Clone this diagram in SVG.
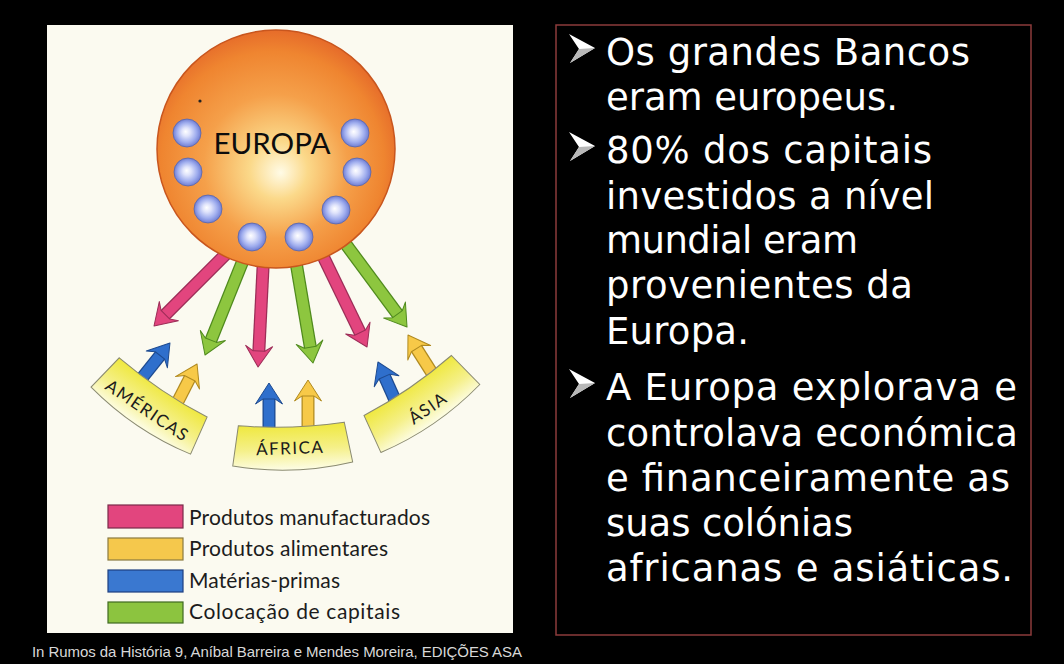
<svg xmlns="http://www.w3.org/2000/svg" width="1064" height="664" viewBox="0 0 1064 664">
<style>
.lbl{font-family:Lato,"Open Sans","Liberation Sans",sans-serif;fill:#1c1c1c}
.ban{font-size:17px;letter-spacing:1.5px;text-anchor:middle}
.leg{font-size:21px}
.sw{stroke-width:1.2}
.o{stroke-width:13;fill:none}
.f{stroke-width:10.5;fill:none}
.pk .o{stroke:#9c2d57}.pk .f{stroke:#e2457e}
.gr .o{stroke:#4f8a1d}.gr .f{stroke:#8dc63f}
.bl .o{stroke:#1d4a90}.bl .f{stroke:#2f6fcc}
.ye .o{stroke:#b08a20}.ye .f{stroke:#f7c948}
.rt{font-family:"DejaVu Sans",sans-serif;font-size:37px;fill:#ffffff}
.cap{font-family:"Liberation Sans",Arial,sans-serif;font-size:15px;fill:#d8d8d8}
.ball{fill:url(#gBall);stroke:#5a66a8;stroke-width:0.8}
.banner{fill:url(#gBan);stroke:#8a8a70;stroke-width:1}
</style>
<defs>
<radialGradient id="gSph" cx="0.48" cy="0.55" r="0.55" fx="0.52" fy="0.6">
<stop offset="0" stop-color="#fffbe6"/>
<stop offset="0.22" stop-color="#fbd98a"/>
<stop offset="0.55" stop-color="#f5a04a"/>
<stop offset="0.85" stop-color="#ef8530"/>
<stop offset="1" stop-color="#e66c2a"/>
</radialGradient>
<radialGradient id="gBall" cx="0.5" cy="0.5" r="0.5" fx="0.45" fy="0.45">
<stop offset="0" stop-color="#ffffff"/>
<stop offset="0.3" stop-color="#dfe3fb"/>
<stop offset="0.7" stop-color="#9fadee"/>
<stop offset="1" stop-color="#6f7dd2"/>
</radialGradient>
<linearGradient id="gBan" x1="0" y1="0" x2="0" y2="1">
<stop offset="0" stop-color="#efe83e"/>
<stop offset="0.55" stop-color="#f5f08a"/>
<stop offset="1" stop-color="#fdfde6"/>
</linearGradient>
<marker id="hPk" markerUnits="userSpaceOnUse" viewBox="0 -15 24 30" markerWidth="24" markerHeight="30" refX="6" refY="0" orient="auto" overflow="visible">
<path d="M5,-6 L0,-13.5 L21,0 L0,13.5 L5,6 Z" fill="#e2457e" stroke="#9c2d57" stroke-width="1" stroke-linejoin="round"/>
</marker>
<marker id="hGr" markerUnits="userSpaceOnUse" viewBox="0 -15 24 30" markerWidth="24" markerHeight="30" refX="6" refY="0" orient="auto" overflow="visible">
<path d="M5,-6 L0,-13.5 L21,0 L0,13.5 L5,6 Z" fill="#8dc63f" stroke="#4f8a1d" stroke-width="1" stroke-linejoin="round"/>
</marker>
<marker id="hBl" markerUnits="userSpaceOnUse" viewBox="0 -15 24 30" markerWidth="24" markerHeight="30" refX="6" refY="0" orient="auto" overflow="visible">
<path d="M5,-6 L0,-13.5 L21,0 L0,13.5 L5,6 Z" fill="#2f6fcc" stroke="#1d4a90" stroke-width="1" stroke-linejoin="round"/>
</marker>
<marker id="hYe" markerUnits="userSpaceOnUse" viewBox="0 -15 24 30" markerWidth="24" markerHeight="30" refX="6" refY="0" orient="auto" overflow="visible">
<path d="M5,-6 L0,-13.5 L21,0 L0,13.5 L5,6 Z" fill="#f7c948" stroke="#b08a20" stroke-width="1" stroke-linejoin="round"/>
</marker>
<path id="banShape" d="M-53,-20 Q0,-14 53,-20 L60,20 Q0,32 -60,20 Z"/>
<g id="bul">
<path d="M0,-31 L26,-17 L1,-2 L10,-16 Z" fill="#ffffff"/>
<path d="M10,-16 L26,-17 L1,-2 Z" fill="#b8b8b8"/>
</g>
</defs>

<rect x="0" y="0" width="1064" height="664" fill="#000000"/>
<rect id="panel" x="47" y="25" width="466" height="608" fill="#fbfaf0"/>

<g id="connectors">
<g class="pk"><line class="o" x1="232" y1="248" x2="164.6" y2="315.4"/><line class="f" x1="232" y1="248" x2="164.6" y2="315.4" marker-end="url(#hPk)"/></g>
<g class="gr"><line class="o" x1="244" y1="258" x2="210.6" y2="341.1"/><line class="f" x1="244" y1="258" x2="210.6" y2="341.1" marker-end="url(#hGr)"/></g>
<g class="pk"><line class="o" x1="263.5" y1="258" x2="258.8" y2="352"/><line class="f" x1="263.5" y1="258" x2="258.8" y2="352" marker-end="url(#hPk)"/></g>
<g class="gr"><line class="o" x1="295.3" y1="258" x2="310.5" y2="348.2"/><line class="f" x1="295.3" y1="258" x2="310.5" y2="348.2" marker-end="url(#hGr)"/></g>
<g class="pk"><line class="o" x1="321" y1="252" x2="360.5" y2="333.5"/><line class="f" x1="321" y1="252" x2="360.5" y2="333.5" marker-end="url(#hPk)"/></g>
<g class="gr"><line class="o" x1="342" y1="239" x2="398.1" y2="314.9"/><line class="f" x1="342" y1="239" x2="398.1" y2="314.9" marker-end="url(#hGr)"/></g>
<g class="bl"><line class="o" x1="138" y1="383" x2="160.6" y2="354.7"/><line class="f" x1="138" y1="383" x2="160.6" y2="354.7" marker-end="url(#hBl)"/></g>
<g class="ye"><line class="o" x1="174" y1="409" x2="190.2" y2="377.4"/><line class="f" x1="174" y1="409" x2="190.2" y2="377.4" marker-end="url(#hYe)"/></g>
<g class="bl"><line class="o" x1="269" y1="430" x2="269" y2="398"/><line class="f" x1="269" y1="430" x2="269" y2="398" marker-end="url(#hBl)"/></g>
<g class="ye"><line class="o" x1="308" y1="430" x2="308" y2="395"/><line class="f" x1="308" y1="430" x2="308" y2="395" marker-end="url(#hYe)"/></g>
<g class="bl"><line class="o" x1="395" y1="400" x2="384.1" y2="375.7"/><line class="f" x1="395" y1="400" x2="384.1" y2="375.7" marker-end="url(#hBl)"/></g>
<g class="ye"><line class="o" x1="432" y1="373" x2="416" y2="347.7"/><line class="f" x1="432" y1="373" x2="416" y2="347.7" marker-end="url(#hYe)"/></g>
</g>

<g id="node-europa">
<circle cx="276" cy="149" r="119" fill="url(#gSph)" stroke="#c8561e" stroke-width="1.5"/>
<circle cx="200" cy="101" r="1.6" fill="#222"/>
<circle class="ball" cx="187" cy="133" r="14"/>
<circle class="ball" cx="188" cy="172" r="14"/>
<circle class="ball" cx="208" cy="209" r="14"/>
<circle class="ball" cx="252" cy="237" r="14"/>
<circle class="ball" cx="299" cy="237" r="14"/>
<circle class="ball" cx="336" cy="210" r="14"/>
<circle class="ball" cx="357" cy="172" r="14"/>
<circle class="ball" cx="355" cy="133" r="14"/>
<text class="lbl" x="272" y="154" font-size="29.5" text-anchor="middle" style="fill:#0d0d0d">EUROPA</text>
</g>

<g id="node-americas" transform="translate(152,404) rotate(34)">
<use href="#banShape" class="banner"/>
<text class="lbl ban" x="0" y="14">AMÉRICAS</text>
</g>
<g id="node-africa" transform="translate(292,444) rotate(-2)">
<use href="#banShape" class="banner"/>
<text class="lbl ban" x="-2" y="10">ÁFRICA</text>
</g>
<g id="node-asia" transform="translate(419,402) rotate(-34.5)">
<use href="#banShape" class="banner"/>
<text class="lbl ban" x="4" y="16">ÁSIA</text>
</g>

<g id="legend">
<rect class="sw" x="108" y="505" width="75" height="23" fill="#e2457e" stroke="#7a2a4a"/>
<rect class="sw" x="108" y="538" width="75" height="22" fill="#f5c84c" stroke="#8a7a40"/>
<rect class="sw" x="108" y="570" width="75" height="22" fill="#3a78d0" stroke="#1d3f80"/>
<rect class="sw" x="108" y="602" width="75" height="21" fill="#8cc43f" stroke="#3f6a20"/>
<text class="lbl leg" x="189" y="525" textLength="241">Produtos manufacturados</text>
<text class="lbl leg" x="189" y="556" textLength="199">Produtos alimentares</text>
<text class="lbl leg" x="189" y="588" textLength="151">Matérias-primas</text>
<text class="lbl leg" x="189" y="619" textLength="211">Colocação de capitais</text>
</g>

<g id="text-panel">
<rect x="556" y="25" width="475" height="610" fill="#000000" stroke="#8c3b3b" stroke-width="1.5"/>
<use href="#bul" x="569" y="65"/>
<use href="#bul" x="569" y="163"/>
<use href="#bul" x="569" y="400"/>
<text class="rt" x="606" y="65" textLength="364">Os grandes Bancos</text>
<text class="rt" x="606" y="110" textLength="292">eram europeus.</text>
<text class="rt" x="606" y="163" textLength="326">80% dos capitais</text>
<text class="rt" x="606" y="209" textLength="328">investidos a nível</text>
<text class="rt" x="606" y="253" textLength="252">mundial eram</text>
<text class="rt" x="606" y="298" textLength="307">provenientes da</text>
<text class="rt" x="606" y="344" textLength="143">Europa.</text>
<text class="rt" x="606" y="400" textLength="411">A Europa explorava e</text>
<text class="rt" x="606" y="446" textLength="412">controlava económica</text>
<text class="rt" x="606" y="491" textLength="404">e financeiramente as</text>
<text class="rt" x="606" y="536" textLength="247">suas colónias</text>
<text class="rt" x="606" y="581" textLength="407">africanas e asiáticas.</text>
</g>

<text id="caption" class="cap" x="32" y="657" textLength="490">In Rumos da História 9, Aníbal Barreira e Mendes Moreira, EDIÇÕES ASA</text>
</svg>
